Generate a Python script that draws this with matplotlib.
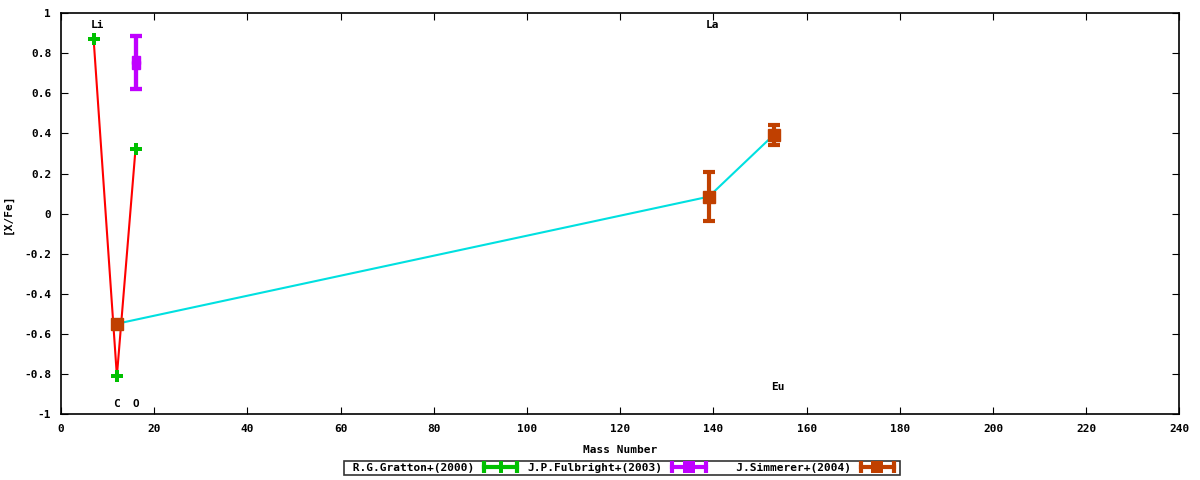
import matplotlib
matplotlib.use("Agg")
import matplotlib.pyplot as plt
from matplotlib.lines import Line2D
from matplotlib.legend_handler import HandlerLine2D, HandlerTuple

plt.rcParams['font.family'] = ['DejaVu Sans Mono']
plt.rcParams['font.weight'] = 'bold'
plt.rcParams['font.size'] = 8

# Gratton+(2000): Li, C, O
gratton_mass = [7, 12, 16]
gratton_val = [0.872, -0.808, 0.323]

# Fulbright+(2003): O
fulbright_mass = [16, 16]
fulbright_val = [0.767, 0.740]
fulbright_err_lo = [0.145, 0.118]
fulbright_err_hi = [0.116, 0.143]

# Simmerer+(2004): C, La, Eu
simmerer_mass = [12, 139, 153]
simmerer_val = [-0.548, 0.085, 0.394]
simmerer_err = [0.0, 0.123, 0.05]

# element labels
elem_names = ["Li", "C", "O", "La", "Eu"]
elem_x = [7.8, 12, 16, 139.8, 153.8]
elem_y = [0.94, -0.95, -0.95, 0.94, -0.865]

series_names = ["R.G.Gratton+(2000)", "J.P.Fulbright+(2003)", "J.Simmerer+(2004)"]

green = "#00c000"
purple = "#c000ff"
brown = "#c04000"

fig = plt.figure(figsize=(12, 4.8), dpi=100)
ax = fig.add_axes([0.0508, 0.1365, 0.9321, 0.8365])

# connecting lines
ax.plot(gratton_mass, gratton_val, color="red", lw=1.5, zorder=2)
ax.plot(simmerer_mass, simmerer_val, color="#00e0e0", lw=1.5, zorder=2)

ax.errorbar(gratton_mass, gratton_val, fmt="P", color=green,
            ms=8, mew=0, zorder=3)
ax.errorbar(fulbright_mass, fulbright_val,
            yerr=[fulbright_err_lo, fulbright_err_hi], fmt="s", color=purple,
            ms=6, capsize=4, elinewidth=3, capthick=3, zorder=3)
ax.errorbar(simmerer_mass, simmerer_val, yerr=simmerer_err, fmt="s", color=brown,
            ms=8, capsize=4, elinewidth=3, capthick=3, zorder=3)

for name, x, y in zip(elem_names, elem_x, elem_y):
    ax.text(x, y, name, ha="center", va="center", fontsize=8, fontweight="bold")

ax.set_xlim(0, 240)
ax.set_ylim(-1, 1)
ax.set_xticks(range(0, 241, 20))
yt = [-1, -0.8, -0.6, -0.4, -0.2, 0, 0.2, 0.4, 0.6, 0.8, 1]
ax.set_yticks(yt)
ax.set_yticklabels([f"{v:g}" for v in yt])
ax.tick_params(direction="in", top=True, right=True, length=5, pad=7)
for s in ax.spines.values():
    s.set_linewidth(1.2)

ax.set_xlabel("Mass Number", fontsize=8, fontweight="bold", labelpad=8)
ax.set_ylabel("[X/Fe]", fontsize=8, fontweight="bold", labelpad=8)

# gnuplot-like legend keys: horizontal bar with end caps and marker in the middle
handles = []
hmap = {}
for col, mk in [(green, "P"), (purple, "s"), (brown, "s")]:
    bar = Line2D([], [], color=col, lw=3, marker="|", ms=8, mew=3)
    pt = Line2D([], [], color=col, lw=0, marker=mk, ms=8, mew=0)
    hmap[pt] = HandlerLine2D(numpoints=1)
    handles.append((bar, pt))
hmap[tuple] = HandlerTuple(ndivide=1, pad=0)

labels = [n.rjust(w) for n, w in zip(series_names, [19, 20, 20])]
leg = fig.legend(handles, labels, handler_map=hmap,
                 loc="center", bbox_to_anchor=(0.518, 0.025), ncol=3,
                 markerfirst=False, frameon=True, fancybox=False, numpoints=2,
                 borderpad=0.2, handlelength=3.6, handletextpad=0.6,
                 columnspacing=0.6, fontsize=8, edgecolor="black")
leg.get_frame().set_linewidth(1.2)

fig.savefig("out.png", dpi=100)
